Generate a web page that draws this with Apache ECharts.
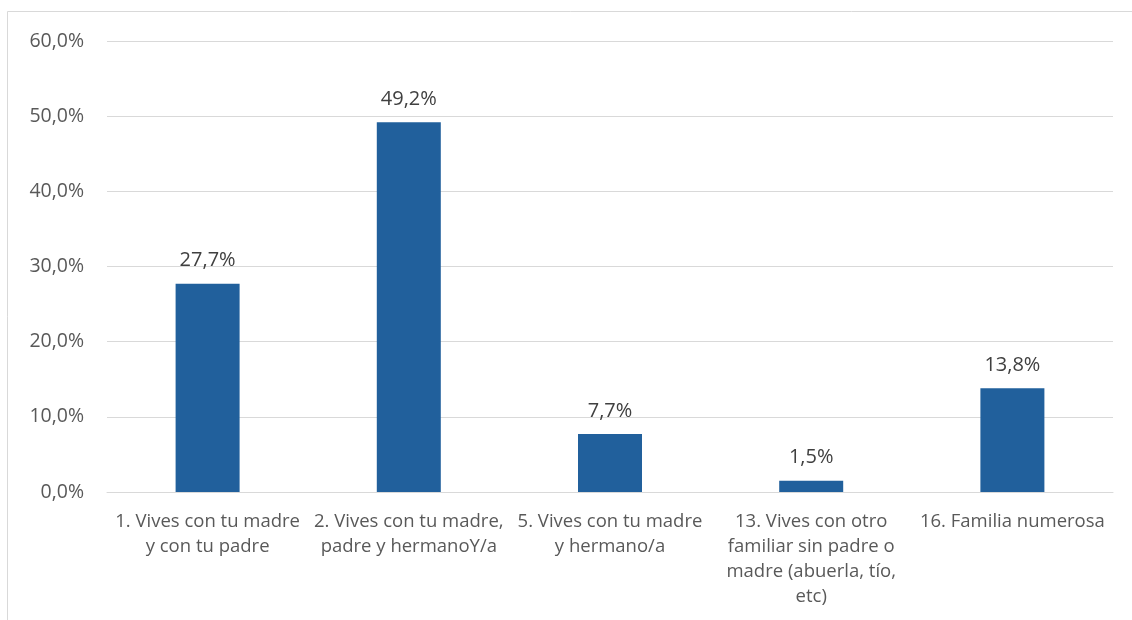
<!DOCTYPE html>
<html>
<head>
<meta charset="utf-8">
<script src="https://cdn.jsdelivr.net/npm/echarts@6/dist/echarts.min.js"></script>
<style>
html,body{margin:0;padding:0;background:#fff;}
#c{width:1132px;height:620px;}
</style>
</head>
<body>
<div id="c"></div>
<script>
const categories = [
  "1. Vives con tu madre\ny con tu padre",
  "2. Vives con tu madre,\npadre y hermanoY/a",
  "5. Vives con tu madre\ny hermano/a",
  "13. Vives con otro\nfamiliar sin padre o\nmadre (abuerla, tío,\netc)",
  "16. Familia numerosa"
];
const values = [27.7, 49.2, 7.7, 1.5, 13.8];
const yTicks = [0, 10, 20, 30, 40, 50, 60];

const fmt = v => v.toFixed(1).replace('.', ',') + '%';
const chart = echarts.init(document.getElementById('c'), null, {renderer: 'canvas'});
chart.setOption({
  animation: false,
  backgroundColor: '#fff',
  textStyle: {fontFamily: 'Open Sans'},
  graphic: [{
    type: 'polyline',
    shape: {points: [[7.5, 625], [7.5, 11.5], [1140, 11.5]]},
    style: {stroke: '#d9d9d9', lineWidth: 1, fill: null}
  }],
  grid: {left: 107, right: 19, top: 41, bottom: 128, containLabel: false},
  xAxis: {
    type: 'category',
    data: categories,
    axisTick: {show: false},
    axisLine: {lineStyle: {color: '#d9d9d9', width: 1}},
    axisLabel: {color: '#595959', fontSize: 18.5, lineHeight: 25, margin: 17, interval: 0}
  },
  yAxis: {
    type: 'value',
    min: yTicks[0], max: yTicks[yTicks.length - 1], interval: 10,
    axisLine: {show: false},
    axisTick: {show: false},
    splitLine: {lineStyle: {color: '#d9d9d9', width: 1}},
    axisLabel: {color: '#595959', fontSize: 19.5, margin: 23, formatter: v => fmt(v)}
  },
  series: [{
    type: 'bar',
    data: values,
    barWidth: 64,
    itemStyle: {color: '#21609c'},
    label: {show: true, position: 'top', distance: 13, color: '#404040', fontSize: 20, formatter: p => fmt(p.value)}
  }]
});
</script>
</body>
</html>
